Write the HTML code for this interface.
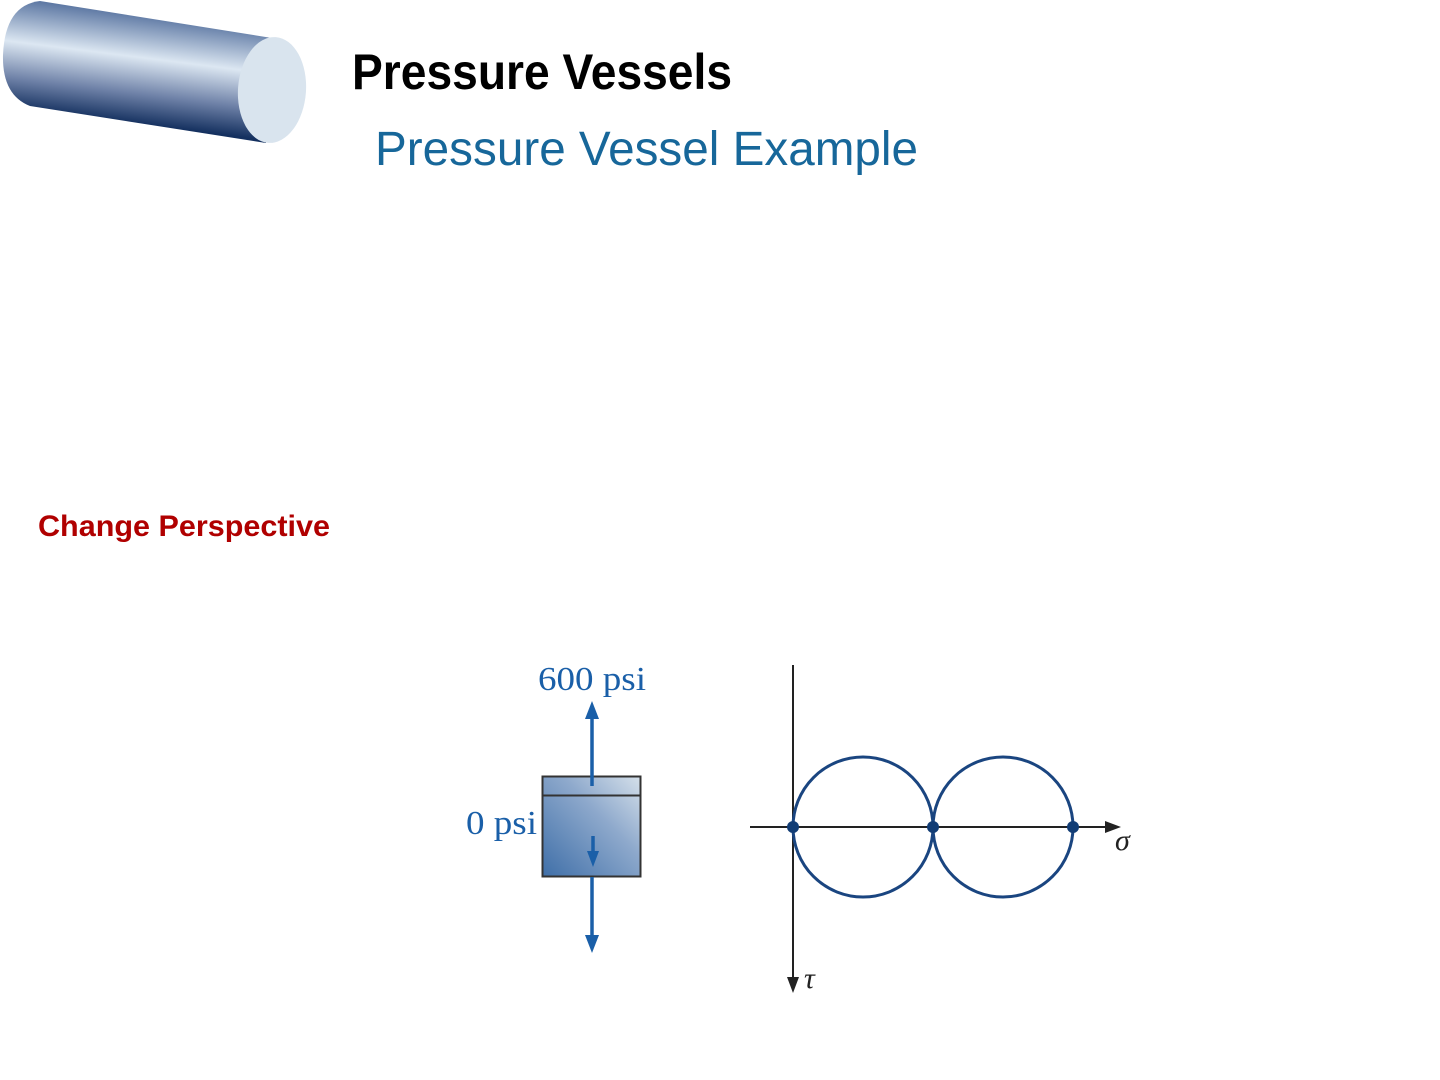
<!DOCTYPE html>
<html><head><meta charset="utf-8"><style>
html,body{margin:0;padding:0;background:#fff;}
svg{display:block;}
</style></head><body>
<svg width="1440" height="1080" viewBox="0 0 1440 1080" xmlns="http://www.w3.org/2000/svg">
<defs>
<linearGradient id="cyl" gradientUnits="userSpaceOnUse" x1="160" y1="5" x2="145" y2="125">
<stop offset="0" stop-color="#3b5a8e"/>
<stop offset="0.45" stop-color="#dce7f2"/>
<stop offset="0.75" stop-color="#6f82a8"/>
<stop offset="1" stop-color="#14305f"/>
</linearGradient>
<linearGradient id="box" x1="0" y1="1" x2="1" y2="0">
<stop offset="0" stop-color="#3f6fa8"/>
<stop offset="0.6" stop-color="#8ea9cc"/>
<stop offset="1" stop-color="#d5e0ea"/>
</linearGradient>
</defs>
<!-- cylinder -->
<path d="M40,1 L272,38 L266,143 L30,106 Q2,95 3,55 Q5,5 40,1 Z" fill="url(#cyl)"/>
<ellipse cx="272" cy="90" rx="34" ry="53" transform="rotate(4 272 90)" fill="#d9e4ee"/>
<!-- titles -->
<text x="352" y="89" font-family="Liberation Sans, sans-serif" font-weight="bold" font-size="50" textLength="380" lengthAdjust="spacingAndGlyphs" fill="#000">Pressure Vessels</text>
<text x="375" y="165" font-family="Liberation Sans, sans-serif" font-size="48" textLength="543" lengthAdjust="spacingAndGlyphs" fill="#17679a">Pressure Vessel Example</text>
<text x="38" y="536" font-family="Liberation Sans, sans-serif" font-weight="bold" font-size="30" textLength="292" lengthAdjust="spacingAndGlyphs" fill="#b00000">Change Perspective</text>
<!-- stress element -->
<rect x="542.5" y="776.5" width="98" height="100" fill="url(#box)" stroke="#333" stroke-width="2"/>
<line x1="542" y1="795.5" x2="641" y2="795.5" stroke="#333" stroke-width="2"/>
<g stroke="#1a5fa8" stroke-width="3.5" fill="#1a5fa8">
<line x1="592" y1="786" x2="592" y2="716"/>
<line x1="592" y1="877" x2="592" y2="938"/>
<line x1="593" y1="836" x2="593" y2="854"/>
</g>
<g fill="#1a5fa8">
<polygon points="592,701 585,719 599,719"/>
<polygon points="592,953 585,935 599,935"/>
<polygon points="593,867 587,851 599,851"/>
</g>
<text x="538" y="690" font-family="Liberation Serif, serif" font-size="34" textLength="108" lengthAdjust="spacingAndGlyphs" fill="#1a5fa8">600 psi</text>
<text x="466" y="834" font-family="Liberation Serif, serif" font-size="34" textLength="71" lengthAdjust="spacingAndGlyphs" fill="#1a5fa8">0 psi</text>
<!-- Mohr's circle -->
<line x1="793" y1="665" x2="793" y2="980" stroke="#222" stroke-width="2"/>
<polygon points="793,993 787,977 799,977" fill="#222"/>
<line x1="750" y1="827" x2="1108" y2="827" stroke="#222" stroke-width="2"/>
<polygon points="1121,827 1105,821 1105,833" fill="#222"/>
<circle cx="863" cy="827" r="70" fill="none" stroke="#1a4580" stroke-width="3"/>
<circle cx="1003" cy="827" r="70" fill="none" stroke="#1a4580" stroke-width="3"/>
<g fill="#123d75">
<circle cx="793" cy="827" r="6"/>
<circle cx="933" cy="827" r="6"/>
<circle cx="1073" cy="827" r="6"/>
</g>
<text x="1115" y="850" font-family="Liberation Serif, serif" font-style="italic" font-size="30" fill="#222">σ</text>
<text x="804" y="988" font-family="Liberation Serif, serif" font-style="italic" font-size="30" fill="#222">τ</text>
</svg>
</body></html>
